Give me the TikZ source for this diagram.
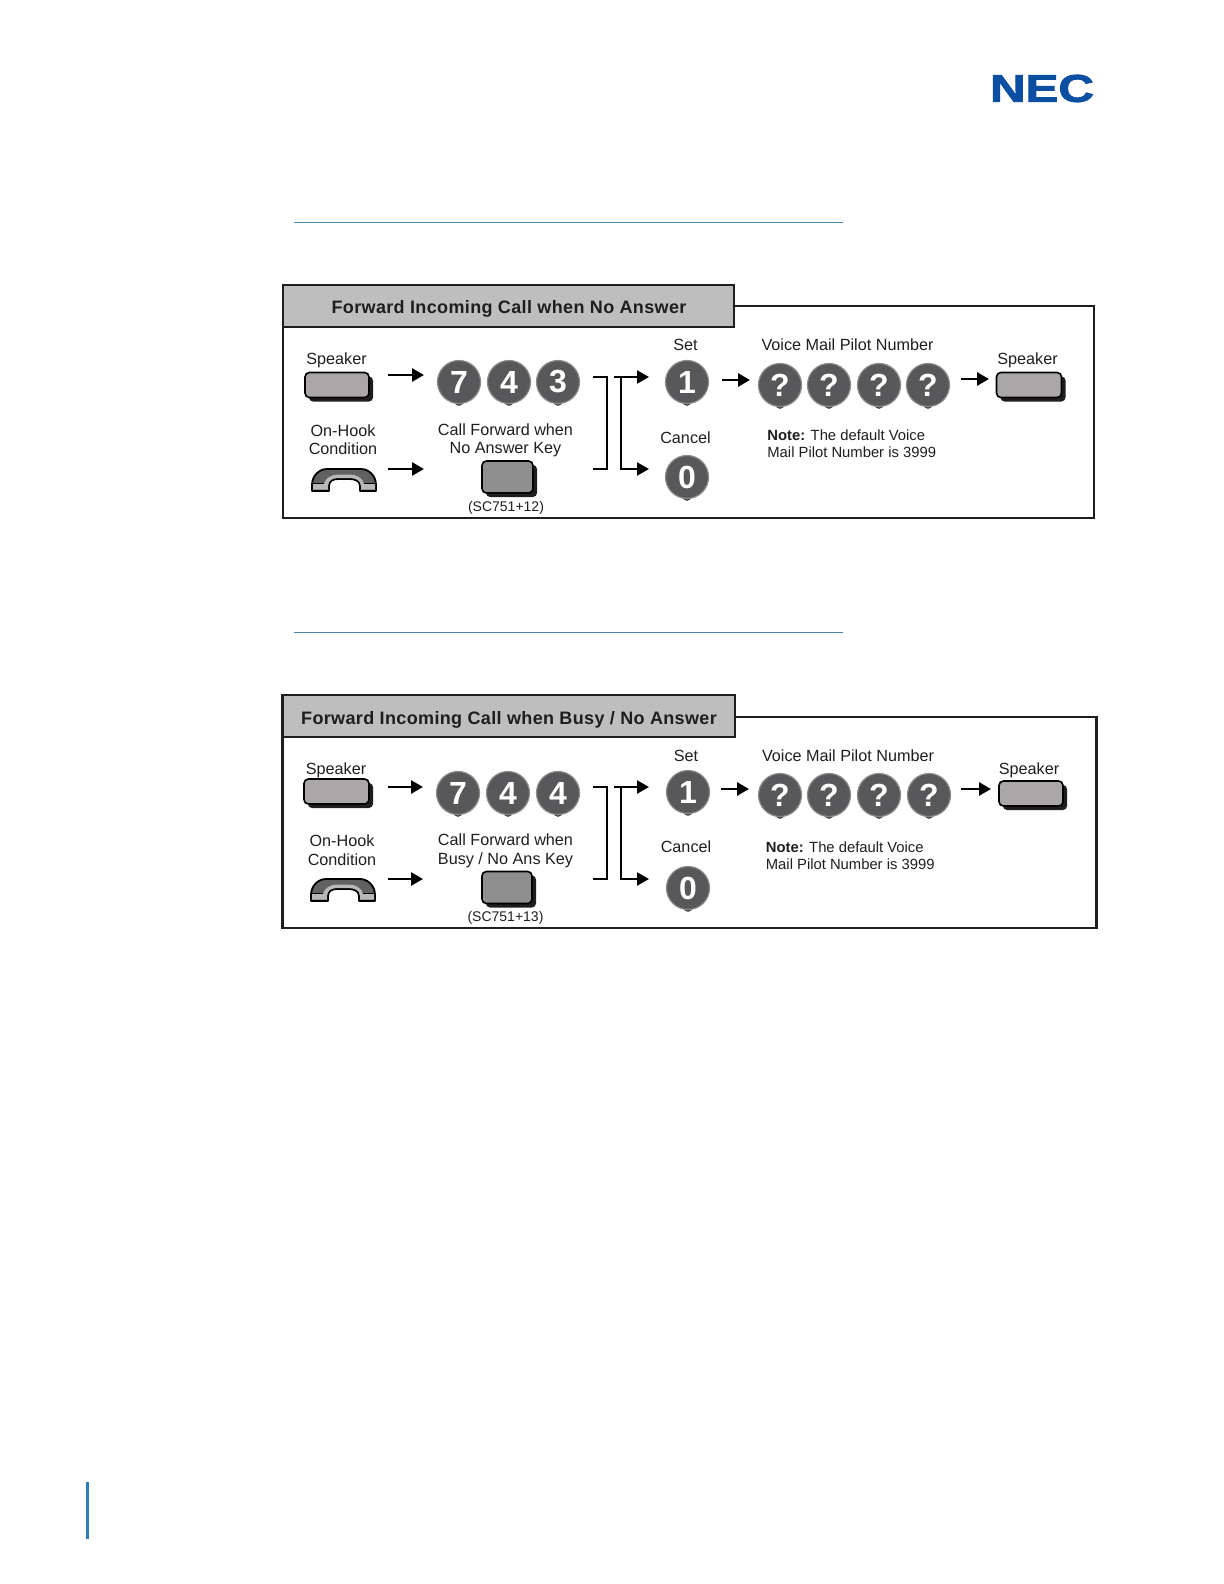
\documentclass[tikz,border=0pt]{standalone}
\usepackage{fontspec}
\usepackage{graphicx}
\setmainfont{Liberation Sans}
\newfontfamily\titlefont[LetterSpace=2,BoldFont={Liberation Sans Bold}]{Liberation Sans}
\newfontfamily\logofont[FakeBold=2]{Liberation Sans Bold}
\usetikzlibrary{arrows.meta}
\definecolor{necblue}{HTML}{0B4EA2}
\definecolor{rulebluec}{HTML}{4A86B0}
\definecolor{barblue}{HTML}{2F7DB8}
\definecolor{headgrey}{HTML}{BEBEBE}
\definecolor{keygrey}{HTML}{ABA7A8}
\definecolor{midkey}{HTML}{8F8F8F}
\definecolor{btngrey}{HTML}{58585A}
\definecolor{inkc}{HTML}{1E1E1E}
\tikzset{
  boxline/.style={draw=inkc,line width=1.1pt,outer sep=0pt},
  headbox/.style={boxline,fill=headgrey,anchor=north west,inner sep=0pt},
  lbl/.style={text=inkc,font=\fontsize{8.1}{9.2}\selectfont,align=center,inner sep=0pt},
  notelbl/.style={text=inkc,font=\fontsize{7.4}{8.6}\selectfont,align=left,inner sep=0pt,anchor=west},
  titlelbl/.style={text=inkc,font=\titlefont\bfseries\fontsize{9}{11}\selectfont,inner sep=0pt},
  keybox/.style={draw=black,line width=.8pt,rounded corners=2.2pt,inner sep=0pt},
  keyshade/.style={fill=inkc,draw=none,rounded corners=2pt,inner sep=0pt},
  btnbase/.style={circle,fill=btngrey,draw=btngrey!70!white,line width=.6pt,minimum size=21.5pt,inner sep=0pt,text=white,font=\bfseries\fontsize{16}{16}\selectfont},
  flowarrow/.style={draw=black,line width=1.4pt,-{Triangle[length=6pt,width=6.5pt]}},
  branchline/.style={draw=black,line width=1.1pt},
  branchtip/.style={draw=black,line width=1.1pt,-{Triangle[length=6pt,width=6.5pt]}},
}
% key: name, cx, cy, width, height (pt), fill
\newcommand{\softkey}[6]{%
  \node[keyshade,minimum width=#4pt,minimum height=#5pt] (#1-shade) at (#2+4,#3+4) {};
  \node[keybox,fill=#6,minimum width=#4pt,minimum height=#5pt] (#1) at (#2,#3) {};
}
% dial button: name, cx, cy, label
\newcommand{\dialbtn}[4]{%
  \fill[black!70] (#2,#3+19.5) circle (2.2pt);
  \node[btnbase] (#1) at (#2,#3) {#4};
}
% handset: left, top
\newcommand{\handset}[2]{%
  \begin{scope}[shift={(#1,#2)}]
    \path[fill=black!62,draw=black,line width=.9pt,line join=round]
      (1,23) -- (1,17) .. controls (1,8) and (8,1) .. (16,1) -- (50,1)
      .. controls (58,1) and (65,8) .. (65,17) -- (65,23) -- (49,23) -- (49,18)
      .. controls (49,13) and (44,11) .. (39,11) -- (27,11)
      .. controls (22,11) and (18,13) .. (18,18) -- (18,23) -- cycle;
    \path[fill=black!28]
      (2,16) -- (13,16) .. controls (14,10) and (21,6.5) .. (27,6.5) -- (39,6.5)
      .. controls (45,6.5) and (52,10) .. (53,16) -- (64,16) -- (64,21.5) -- (50,21.5) -- (50,18)
      .. controls (50,12) and (44,10) .. (39,10) -- (27,10)
      .. controls (22,10) and (17,12) .. (17,18) -- (17,21.5) -- (2,21.5) -- cycle;
    \draw[black,line width=.7pt] (1,15.5) -- (13,15.5) (53,15.5) -- (65,15.5);
  \end{scope}
}
\begin{document}
\begin{tikzpicture}[x=0.5pt,y=-0.5pt]
\useasboundingbox (0,0) rectangle (1224,1584);

% logo
\node[inner sep=0pt,text=necblue] (logo) at (1042,88.5)
  {\resizebox{52pt}{13.5pt}{\logofont NEC}};

% rules and page bar
\coordinate (ruleAa) at (294,222); \coordinate (ruleAb) at (843,222);
\coordinate (ruleBa) at (294,632); \coordinate (ruleBb) at (843,632);
\coordinate (bara) at (87.5,1482); \coordinate (barb) at (87.5,1539);
\draw[rulebluec,line width=.5pt] (ruleAa) -- (ruleAb);
\draw[rulebluec,line width=.5pt] (ruleBa) -- (ruleBb);
\draw[barblue,line width=1.5pt] (bara) -- (barb);

%%%%%%%%%%%%%%%% PANEL 1
\node[boxline,anchor=north west,inner sep=0pt,minimum width=405.8pt,minimum height=106.2pt] (Aframe) at (282.7,305.8) {};
\node[headbox,minimum width=225.6pt,minimum height=21pt] (Ahead) at (282.7,284.8) {};
\node[titlelbl] (Atitle) at (509,309) {Forward Incoming Call when No Answer};

\node[lbl] (Aspk) at (336.5,360.5) {Speaker};
\softkey{Akey}{337}{385}{32}{12.5}{keygrey}
\node[lbl] (Ahook) at (343,439.5) {On-Hook\\Condition};
\handset{311}{468}
\coordinate (Aa1s) at (388,375); \coordinate (Aa1e) at (424,375);
\coordinate (Aa2s) at (388,469); \coordinate (Aa2e) at (424,469);
\draw[flowarrow] (Aa1s) -- (Aa1e);
\draw[flowarrow] (Aa2s) -- (Aa2e);
\dialbtn{Ad7}{459}{382}{7}
\dialbtn{Ad4}{509}{382}{4}
\dialbtn{Ad3}{558}{382}{3}
\node[lbl] (Acf) at (505.5,440.5) {Call Forward when\\No Answer Key};
\softkey{Acfkey}{507.5}{477}{25.5}{16}{midkey}
\node[lbl,font=\fontsize{7}{8}\selectfont] (Asc) at (506,508) {(SC751+12)};
\coordinate (Ab1) at (593,377); \coordinate (Ab2) at (607,377);
\coordinate (Ab3) at (607,469); \coordinate (Ab4) at (593,469);
\coordinate (Ac1) at (614,377); \coordinate (Ac2) at (649,377);
\coordinate (Ac3) at (621,377); \coordinate (Ac4) at (621,469); \coordinate (Ac5) at (649,469);
\draw[branchline] (Ab1) -- (Ab2) -- (Ab3) -- (Ab4);
\draw[branchtip] (Ac1) -- (Ac2);
\draw[branchtip] (Ac3) -- (Ac4) -- (Ac5);
\node[lbl] (Aset) at (685.5,345) {Set};
\dialbtn{Ad1}{687}{382}{1}
\node[lbl] (Acan) at (685.5,438) {Cancel};
\dialbtn{Ad0}{687}{477}{0}
\coordinate (Aa3s) at (722,380); \coordinate (Aa3e) at (750,380);
\draw[flowarrow] (Aa3s) -- (Aa3e);
\node[lbl] (Avm) at (847.5,345) {Voice Mail Pilot Number};
\dialbtn{Aq1}{780}{385}{?}
\dialbtn{Aq2}{829}{385}{?}
\dialbtn{Aq3}{879}{385}{?}
\dialbtn{Aq4}{928}{385}{?}
\node[notelbl] (Anote) at (767,444) {\textbf{Note:} The default Voice\\Mail Pilot Number is 3999};
\coordinate (Aa4s) at (961,379); \coordinate (Aa4e) at (989,379);
\draw[flowarrow] (Aa4s) -- (Aa4e);
\node[lbl] (Aspk2) at (1027.5,360.5) {Speaker};
\softkey{Akey2}{1029}{385}{32.5}{12.5}{keygrey}

%%%%%%%%%%%%%%%% PANEL 2
\node[boxline,anchor=north west,inner sep=0pt,minimum width=407pt,minimum height=105.6pt] (Bframe) at (282.5,716.8) {};
\node[headbox,minimum width=226.3pt,minimum height=21pt] (Bhead) at (282.5,694.8) {};
\node[titlelbl] (Btitle) at (509,719.5) {Forward Incoming Call when Busy / No Answer};

\node[lbl] (Bspk) at (336,770.5) {Speaker};
\softkey{Bkey}{336.5}{791.5}{32.5}{12.5}{keygrey}
\node[lbl] (Bhook) at (342,850) {On-Hook\\Condition};
\handset{310}{878}
\coordinate (Bb1s) at (388,787); \coordinate (Bb1e) at (423,787);
\coordinate (Bb2s) at (388,879); \coordinate (Bb2e) at (423,879);
\draw[flowarrow] (Bb1s) -- (Bb1e);
\draw[flowarrow] (Bb2s) -- (Bb2e);
\dialbtn{Bd7}{458}{793}{7}
\dialbtn{Bd4}{508}{793}{4}
\dialbtn{Bd4b}{558}{793}{4}
\node[lbl] (Bcf) at (505.5,851) {Call Forward when\\Busy / No Ans Key};
\softkey{Bcfkey}{507}{887.5}{25}{16}{midkey}
\node[lbl,font=\fontsize{7}{8}\selectfont] (Bsc) at (505.5,918) {(SC751+13)};
\coordinate (Bc1) at (593,787); \coordinate (Bc2) at (607,787);
\coordinate (Bc3) at (607,879); \coordinate (Bc4) at (593,879);
\coordinate (Be1) at (614,787); \coordinate (Be2) at (649,787);
\coordinate (Be3) at (621,787); \coordinate (Be4) at (621,879); \coordinate (Be5) at (649,879);
\draw[branchline] (Bc1) -- (Bc2) -- (Bc3) -- (Bc4);
\draw[branchtip] (Be1) -- (Be2);
\draw[branchtip] (Be3) -- (Be4) -- (Be5);
\node[lbl] (Bset) at (686,756) {Set};
\dialbtn{Bd1}{688}{792}{1}
\node[lbl] (Bcan) at (686,847) {Cancel};
\dialbtn{Bd0}{688}{888}{0}
\coordinate (Bb3s) at (721,789); \coordinate (Bb3e) at (749,789);
\draw[flowarrow] (Bb3s) -- (Bb3e);
\node[lbl] (Bvm) at (848,756) {Voice Mail Pilot Number};
\dialbtn{Bq1}{780}{795}{?}
\dialbtn{Bq2}{829}{795}{?}
\dialbtn{Bq3}{879}{795}{?}
\dialbtn{Bq4}{929}{795}{?}
\node[notelbl] (Bnote) at (765.5,855.5) {\textbf{Note:} The default Voice\\Mail Pilot Number is 3999};
\coordinate (Bb4s) at (961,789); \coordinate (Bb4e) at (991,789);
\draw[flowarrow] (Bb4s) -- (Bb4e);
\node[lbl] (Bspk2) at (1029,770.5) {Speaker};
\softkey{Bkey2}{1031}{793.5}{32}{12.5}{keygrey}
\end{tikzpicture}
\end{document}
